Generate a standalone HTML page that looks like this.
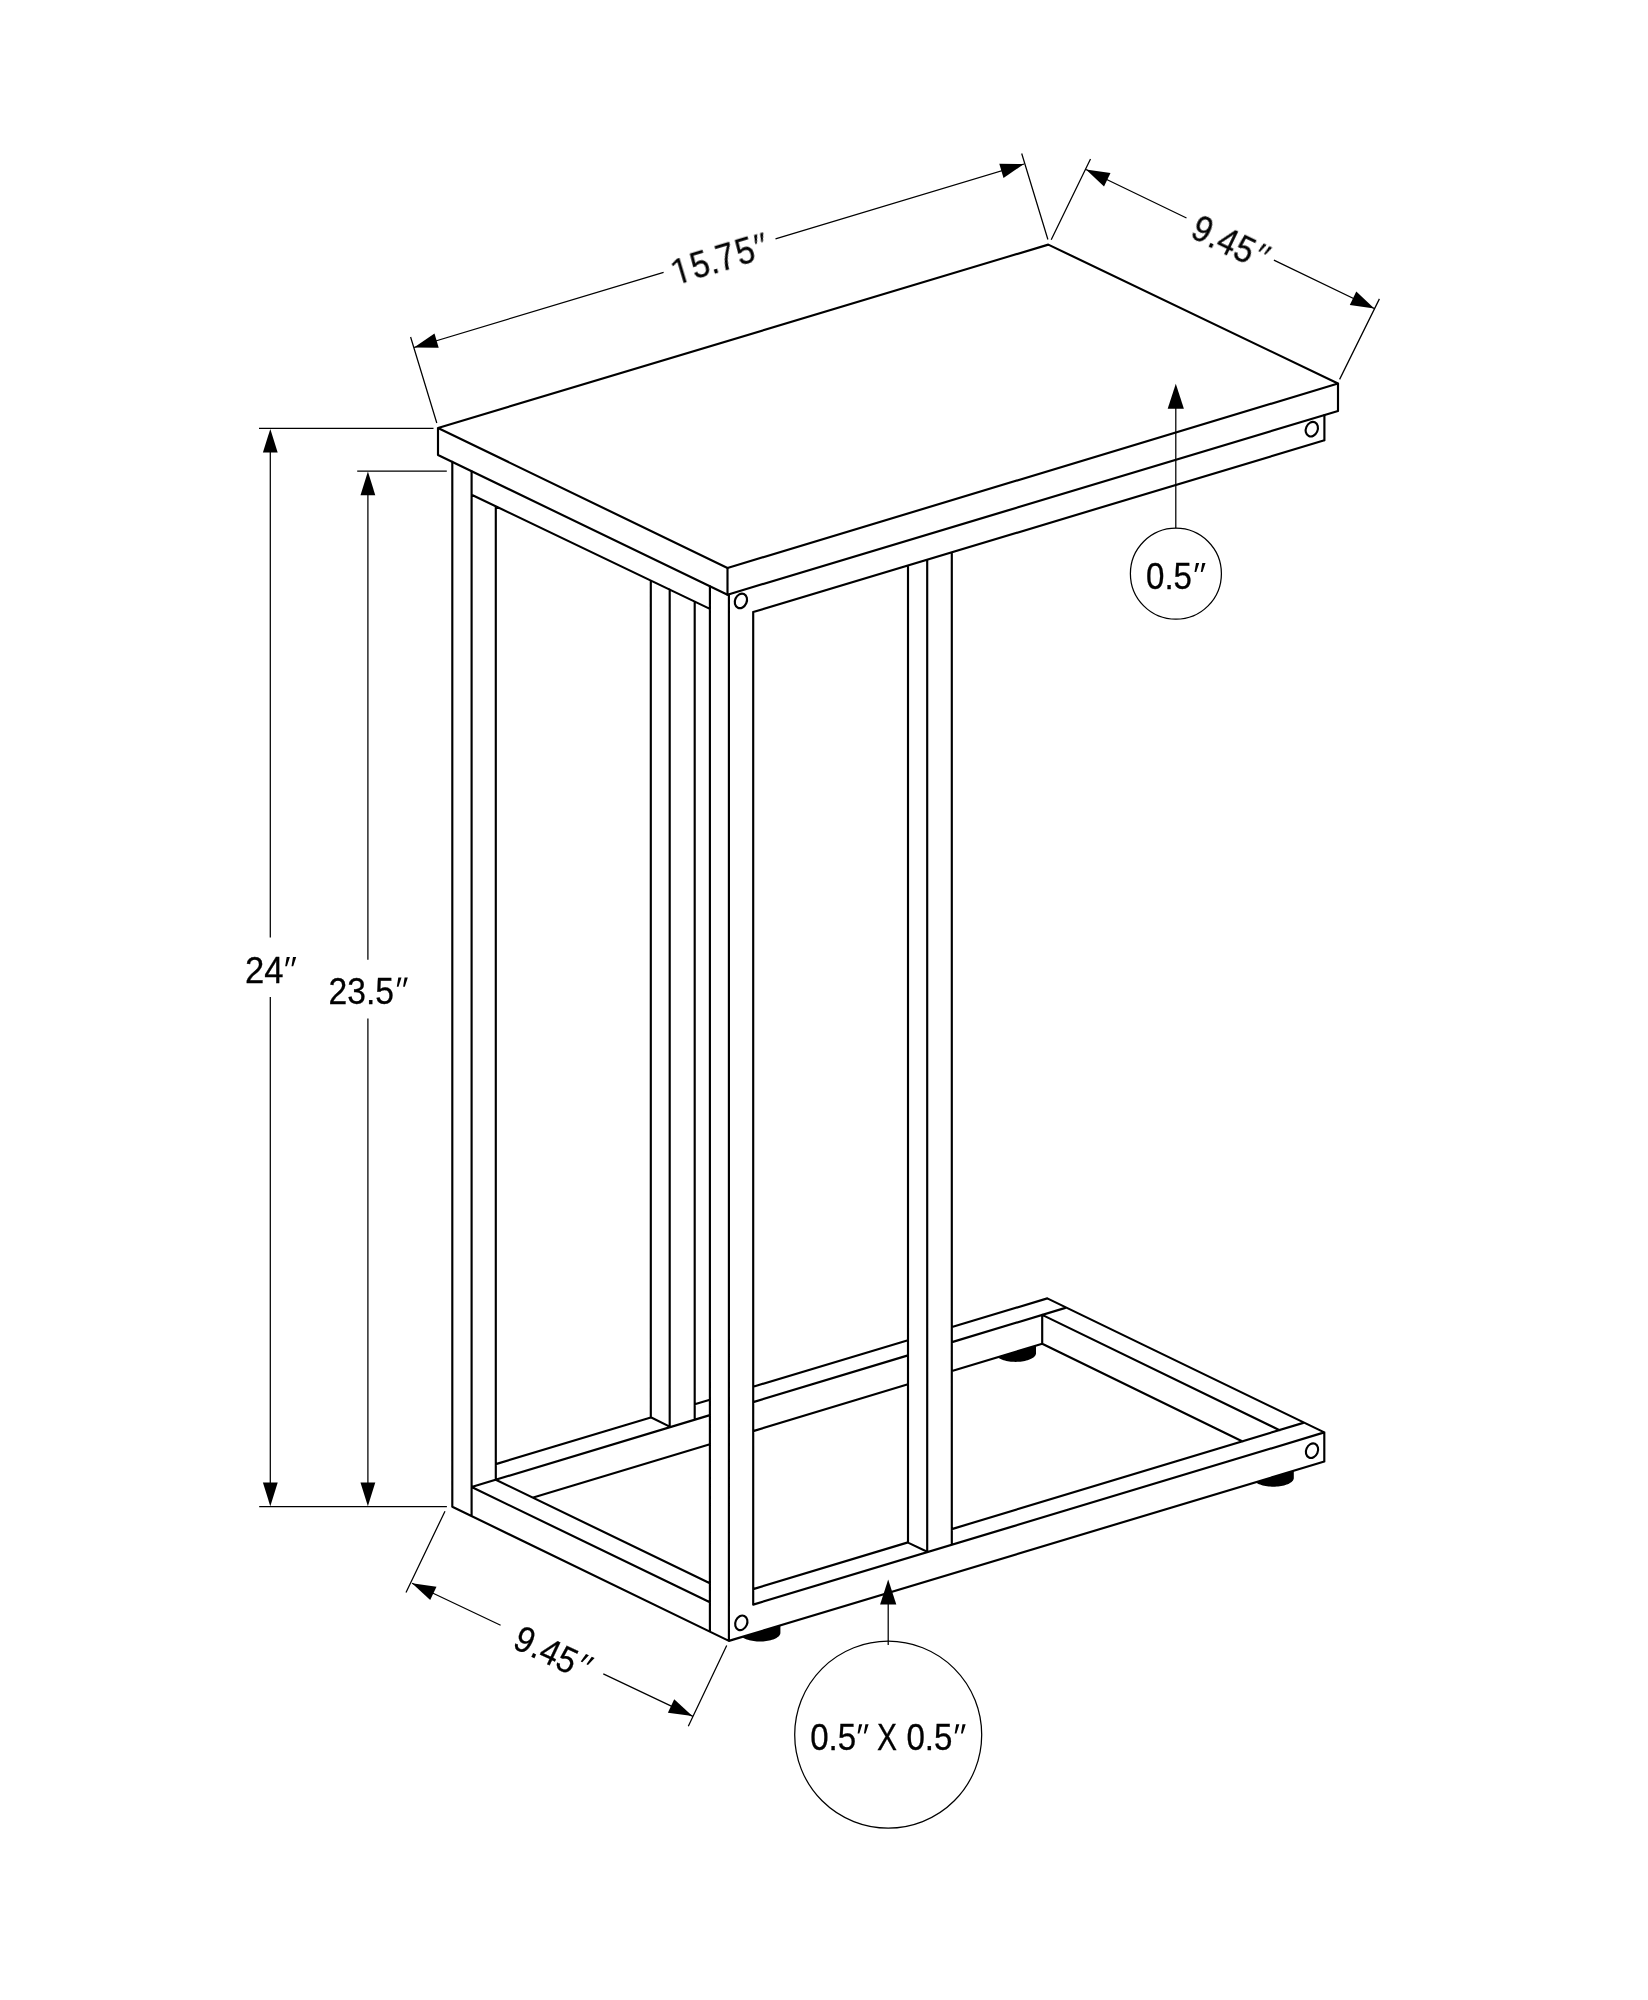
<!DOCTYPE html>
<html><head><meta charset="utf-8"><title>Table dimensions</title>
<style>html,body{margin:0;padding:0;background:#fff;}svg{display:block;}.k{fill:none;stroke:#000;stroke-width:2.15;stroke-linecap:butt;stroke-linejoin:round;}.n{fill:none;stroke:#000;stroke-width:1.25;}text{font-family:"Liberation Sans",sans-serif;font-size:36.6px;fill:#000;stroke:#000;stroke-width:0.3px;}</style></head><body>
<svg width="1648" height="2000" viewBox="0 0 1648 2000">
<rect width="1648" height="2000" fill="#fff"/>
<g class="k" style="stroke-linecap:round">
<path d="M727.5 568.0L727.5 594.7M471.6 494.7L709.9 608.9M753.2 612.0L1324.4 440.3M1324.4 415.1L1324.4 440.3M452.3 461.9L452.3 1506.7M471.6 471.2L471.6 1515.9M495.8 506.3L495.8 1479.7M650.8 580.6L650.8 1417.3M669.7 589.6L669.7 1426.6M694.7 601.6L694.7 1419.7M709.9 586.2L709.9 1630.9M728.9 594.7L728.9 1640.9M753.2 612.0L753.2 1604.6M908.0 565.5L908.0 1542.6M927.2 559.7L927.2 1551.7M951.8 552.3L951.8 1544.1M952.0 1327.0L1047.3 1298.4M753.2 1386.7L908.0 1340.2M694.7 1404.3L709.9 1399.8M495.8 1464.1L650.8 1417.5M952.0 1342.1L1065.4 1307.9M753.2 1402.1L908.0 1355.4M471.6 1487.0L709.9 1415.1M952.0 1371.0L1042.2 1343.8M753.2 1431.1L908.0 1384.3M533.3 1497.5L709.9 1444.2M650.8 1417.3L669.7 1426.6M1047.3 1298.4L1324.3 1432.4M1042.2 1314.9L1279.6 1430.2M1042.2 1343.8L1242.6 1441.5M1042.2 1314.9L1042.2 1343.8M1324.3 1432.4L1324.3 1461.5M951.8 1529.1L1303.3 1422.9M753.2 1589.1L908.0 1542.4M1324.3 1432.4L753.2 1604.6M1324.3 1461.5L728.9 1640.9M908.0 1542.6L927.2 1551.7M452.3 1506.7L728.9 1640.9M471.6 1487.0L709.9 1602.3M495.8 1479.7L709.9 1583.3"/>
</g>
<g class="n">
<path d="M410.6 337.0L436.8 423.0M1021.7 153.5L1047.9 239.5M414.0 347.5L663.6 272.4M775.5 238.8L1024.0 164.0M1090.5 159.1L1051.2 239.8M1379.4 298.9L1339.6 379.4M1086.0 169.5L1186.5 218.0M1273.9 260.1L1374.3 308.5M259.0 428.4L433.5 428.4M259.2 1506.5L446.9 1506.5M270.3 440.0L270.3 937.6M270.3 997.1L270.3 1495.0M357.2 471.0L446.8 471.0M367.9 482.0L367.9 959.7M367.9 1018.5L367.9 1495.0M445.0 1511.2L406.0 1592.4M726.7 1645.4L688.3 1726.3M412.0 1583.3L500.6 1625.3M603.3 1673.9L692.4 1716.1M1175.8 400.0L1175.8 528.3M888.2 1596.0L888.2 1645.0"/>
</g>
<path d="M438.0 428.0 L1048.3 244.6 L1338.0 383.5 L727.5 568.0 Z" class="k"/>
<path d="M438.0 428.0 L438.0 455.0 L727.5 594.7 L1338.0 411.0 L1338.0 383.5" class="k"/>
<ellipse cx="1311.8" cy="429.2" rx="5.85" ry="7.5" transform="rotate(24 1311.8 429.2)" class="k"/>
<ellipse cx="740.9" cy="600.9" rx="5.85" ry="7.5" transform="rotate(24 740.9 600.9)" class="k"/>
<ellipse cx="741.3" cy="1622.8" rx="5.85" ry="7.5" transform="rotate(24 741.3 1622.8)" class="k"/>
<ellipse cx="1312.0" cy="1450.7" rx="5.85" ry="7.5" transform="rotate(24 1312.0 1450.7)" class="k"/>
<path d="M741.11 1637.22 L780.40 1625.38 L780.40 1632.80 L780.34 1633.48 L780.15 1634.16 L779.84 1634.83 L779.40 1635.49 L778.85 1636.13 L778.18 1636.75 L777.39 1637.35 L776.50 1637.91 L775.51 1638.45 L774.42 1638.95 L773.25 1639.42 L771.99 1639.84 L770.66 1640.22 L769.26 1640.55 L767.81 1640.84 L766.30 1641.07 L764.76 1641.26 L763.19 1641.39 L761.60 1641.47 L760.00 1641.50 L758.40 1641.47 L756.81 1641.39 L755.24 1641.26 L753.70 1641.07 L752.19 1640.84 L750.74 1640.55 L749.34 1640.22 L748.01 1639.84 L746.75 1639.42 L745.58 1638.95 L744.49 1638.45 L743.50 1637.91 L742.61 1637.35 Z" fill="#000"/>
<path d="M1254.51 1482.53 L1293.80 1470.69 L1293.80 1478.00 L1293.74 1478.68 L1293.55 1479.36 L1293.24 1480.03 L1292.80 1480.69 L1292.25 1481.33 L1291.58 1481.95 L1290.79 1482.55 L1289.90 1483.11 L1288.91 1483.65 L1287.82 1484.15 L1286.65 1484.62 L1285.39 1485.04 L1284.06 1485.42 L1282.66 1485.75 L1281.21 1486.04 L1279.70 1486.27 L1278.16 1486.46 L1276.59 1486.59 L1275.00 1486.67 L1273.40 1486.70 L1271.80 1486.67 L1270.21 1486.59 L1268.64 1486.46 L1267.10 1486.27 L1265.59 1486.04 L1264.14 1485.75 L1262.74 1485.42 L1261.41 1485.04 L1260.15 1484.62 L1258.98 1484.15 L1257.89 1483.65 L1256.90 1483.11 L1256.01 1482.55 Z" fill="#000"/>
<path d="M996.71 1357.54 L1036.00 1345.67 L1036.00 1353.20 L1035.94 1353.88 L1035.75 1354.56 L1035.44 1355.23 L1035.00 1355.89 L1034.45 1356.53 L1033.78 1357.15 L1032.99 1357.75 L1032.10 1358.31 L1031.11 1358.85 L1030.02 1359.35 L1028.85 1359.82 L1027.59 1360.24 L1026.26 1360.62 L1024.86 1360.95 L1023.41 1361.24 L1021.90 1361.47 L1020.36 1361.66 L1018.79 1361.79 L1017.20 1361.87 L1015.60 1361.90 L1014.00 1361.87 L1012.41 1361.79 L1010.84 1361.66 L1009.30 1361.47 L1007.79 1361.24 L1006.34 1360.95 L1004.94 1360.62 L1003.61 1360.24 L1002.35 1359.82 L1001.18 1359.35 L1000.09 1358.85 L999.10 1358.31 L998.21 1357.75 Z" fill="#000"/>
<path d="M414.0 347.5 L434.5 333.6 L438.7 347.8 Z" fill="#000"/>
<path d="M1024.0 164.0 L1003.5 177.9 L999.3 163.7 Z" fill="#000"/>
<path d="M1086.0 169.5 L1110.5 173.1 L1104.0 186.4 Z" fill="#000"/>
<path d="M1374.3 308.5 L1349.8 304.9 L1356.3 291.6 Z" fill="#000"/>
<path d="M270.3 429.0 L277.7 452.6 L262.9 452.6 Z" fill="#000"/>
<path d="M270.3 1506.2 L262.9 1482.6 L277.7 1482.6 Z" fill="#000"/>
<path d="M367.9 471.6 L375.3 495.2 L360.5 495.2 Z" fill="#000"/>
<path d="M367.9 1506.2 L360.5 1482.6 L375.3 1482.6 Z" fill="#000"/>
<path d="M412.0 1583.3 L436.5 1586.7 L430.2 1600.1 Z" fill="#000"/>
<path d="M692.4 1716.1 L667.9 1712.7 L674.2 1699.3 Z" fill="#000"/>
<path d="M1175.8 383.7 L1183.9 408.7 L1167.7 408.7 Z" fill="#000"/>
<circle cx="1175.9" cy="573.7" r="45.5" class="n"/>
<path d="M888.2 1579.4 L896.3 1604.4 L880.1 1604.4 Z" fill="#000"/>
<circle cx="888.2" cy="1734.7" r="93.5" class="n"/>
<g opacity="0.999">
<text x="245.0" y="982.8" textLength="38.5" lengthAdjust="spacingAndGlyphs" text-anchor="start">24</text><path d="M286.70 957.00 L289.90 957.00 L286.90 966.20 L285.20 966.20 Z" fill="#000"/><path d="M293.00 957.00 L296.20 957.00 L293.20 966.20 L291.50 966.20 Z" fill="#000"/>
<text x="328.5" y="1004.0" textLength="65.5" lengthAdjust="spacingAndGlyphs" text-anchor="start">23.5</text><path d="M398.30 977.60 L401.50 977.60 L398.50 986.80 L396.80 986.80 Z" fill="#000"/><path d="M404.60 977.60 L407.80 977.60 L404.80 986.80 L403.10 986.80 Z" fill="#000"/>
<text x="1146.0" y="589.0" textLength="46.0" lengthAdjust="spacingAndGlyphs" text-anchor="start">0.5</text><path d="M1196.00 562.90 L1199.20 562.90 L1196.20 572.10 L1194.50 572.10 Z" fill="#000"/><path d="M1202.30 562.90 L1205.50 562.90 L1202.50 572.10 L1200.80 572.10 Z" fill="#000"/>
<text x="810.2" y="1750.3" textLength="46.0" lengthAdjust="spacingAndGlyphs" text-anchor="start">0.5</text><path d="M859.10 1724.30 L862.30 1724.30 L859.30 1733.50 L857.60 1733.50 Z" fill="#000"/><path d="M865.40 1724.30 L868.60 1724.30 L865.60 1733.50 L863.90 1733.50 Z" fill="#000"/><text x="877.0" y="1750.3" textLength="20.0" lengthAdjust="spacingAndGlyphs" text-anchor="start">X</text><text x="906.4" y="1750.3" textLength="46.0" lengthAdjust="spacingAndGlyphs" text-anchor="start">0.5</text><path d="M956.20 1724.30 L959.40 1724.30 L956.40 1733.50 L954.70 1733.50 Z" fill="#000"/><path d="M962.50 1724.30 L965.70 1724.30 L962.70 1733.50 L961.00 1733.50 Z" fill="#000"/>
<g transform="translate(719.0 255.5) rotate(-16.70)"><path d="M-41.70 16.30 L-38.60 16.30 L-38.60 -8.90 L-41.20 -8.90 L-47.90 -5.30 L-47.10 -3.00 L-41.70 -5.70 Z" fill="#000"/><text transform="translate(-30.10 16.30) scale(0.900 1)">5</text><text transform="translate(-12.00 16.30) scale(0.900 1)">.</text><text transform="translate(-3.30 16.30) scale(0.900 1)">7</text><text transform="translate(17.00 16.30) scale(0.900 1)">5</text><path d="M39.50 -9.60 L42.70 -9.60 L39.70 -0.40 L38.00 -0.40 Z" fill="#000"/><path d="M45.80 -9.60 L49.00 -9.60 L46.00 -0.40 L44.30 -0.40 Z" fill="#000"/></g>
<g transform="translate(1230.2 239.0) rotate(25.73)"><text transform="translate(-38.30 15.50) scale(0.900 1)">9</text><text transform="translate(-19.00 15.50) scale(0.900 1)">.</text><text transform="translate(-10.20 15.50) scale(0.900 1)">4</text><text transform="translate(8.40 15.50) scale(0.900 1)">5</text><path d="M32.10 -10.40 L35.30 -10.40 L32.30 -1.20 L30.60 -1.20 Z" fill="#000"/><path d="M38.40 -10.40 L41.60 -10.40 L38.60 -1.20 L36.90 -1.20 Z" fill="#000"/></g>
<g transform="translate(551.8 1649.6) rotate(25.30)"><text transform="translate(-37.60 15.20) scale(0.900 1)">9</text><text transform="translate(-18.30 15.20) scale(0.900 1)">.</text><text transform="translate(-9.50 15.20) scale(0.900 1)">4</text><text transform="translate(9.10 15.20) scale(0.900 1)">5</text><path d="M32.80 -10.70 L36.00 -10.70 L33.00 -1.50 L31.30 -1.50 Z" fill="#000"/><path d="M39.10 -10.70 L42.30 -10.70 L39.30 -1.50 L37.60 -1.50 Z" fill="#000"/></g>
</g>
</svg></body></html>
